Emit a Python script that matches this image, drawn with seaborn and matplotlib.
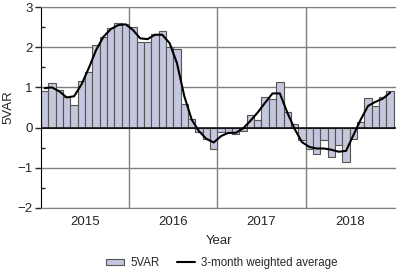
import numpy as np
import pandas as pd
import matplotlib
matplotlib.use("Agg")
import matplotlib.pyplot as plt
from matplotlib.patches import Patch
from matplotlib.lines import Line2D
from matplotlib.ticker import MultipleLocator
import seaborn as sns

# monthly values, Jan 2015 - Dec 2018
years = ["2015", "2016", "2017", "2018"]
var5 = [0.92, 1.11, 0.94, 0.76, 0.57, 1.16, 1.39, 2.06, 2.25, 2.48, 2.61, 2.58,
        2.50, 2.12, 2.12, 2.34, 2.40, 2.00, 1.95, 0.58, 0.21, -0.12, -0.28, -0.52,
        -0.11, -0.13, -0.16, -0.08, 0.31, 0.18, 0.75, 0.72, 1.14, 0.40, 0.09, -0.30,
        -0.52, -0.65, -0.31, -0.74, -0.44, -0.85, -0.29, 0.14, 0.73, 0.54, 0.77, 0.91]
wavg = [0.98, 1.00, 0.90, 0.75, 0.78, 1.07, 1.48, 1.93, 2.26, 2.45, 2.55, 2.57,
        2.43, 2.22, 2.20, 2.31, 2.31, 2.10, 1.60, 0.78, 0.20, -0.09, -0.28, -0.37,
        -0.21, -0.13, -0.13, -0.02, 0.17, 0.38, 0.62, 0.85, 0.85, 0.38, -0.03, -0.36,
        -0.48, -0.52, -0.52, -0.55, -0.60, -0.58, -0.19, 0.20, 0.54, 0.64, 0.72, 0.87]

df = pd.DataFrame({"month": np.arange(len(var5)), "5VAR": var5, "wavg": wavg})

sns.set_style("white")
plt.rcParams["font.family"] = ["Liberation Sans", "DejaVu Sans"]

bar_color = "#c4c7dd"
fig = plt.figure(figsize=(3.96, 2.70), dpi=100)
ax = fig.add_axes([41 / 396, 1 - 208 / 270, 355 / 396, 201 / 270])

sns.barplot(data=df, x="month", y="5VAR", native_scale=True, width=1.0,
            color=bar_color, saturation=1, edgecolor="#555555", linewidth=0.8,
            ax=ax, zorder=2)
sns.lineplot(data=df, x="month", y="wavg", color="black", linewidth=1.5,
             ax=ax, zorder=3)

ax.set_xlim(-0.5, 47.8)
ax.set_ylim(-2, 3)

# grid
for v in range(-2, 4):
    ax.axhline(v, color="black" if v == 0 else "#7f7f7f",
               lw=1.1 if v == 0 else 1.0, zorder=1 if v != 0 else 2.5)
for b in [11.5, 23.5, 35.5]:
    ax.axvline(b, color="#7f7f7f", lw=1.0, zorder=1)

ax.set_xticks([5.5, 17.5, 29.5, 41.5])
ax.set_xticklabels(years)
ax.tick_params(axis="x", length=0, labelsize=9.5, pad=6)
ax.yaxis.set_major_locator(MultipleLocator(1))
ax.yaxis.set_minor_locator(MultipleLocator(0.5))
ax.set_yticks(range(-2, 4))
ax.set_yticklabels(["\u22122", "\u22121", "0", "1", "2", "3"])
ax.tick_params(axis="y", which="major", direction="out", length=4, width=1,
               labelsize=9.5, pad=2, left=True)
ax.tick_params(axis="y", which="minor", direction="in", length=3, width=1, left=True)

for s in ["top", "bottom"]:
    ax.spines[s].set_color("#7f7f7f")
ax.spines["left"].set_color("black")
ax.spines["right"].set_visible(False)

ax.set_xlabel("Year", fontsize=9.5, labelpad=5)
ax.set_ylabel("5VAR", fontsize=9.5, labelpad=2)

handles = [Patch(facecolor=bar_color, edgecolor="#555555", linewidth=0.8),
           Line2D([0], [0], color="black", lw=1.5)]
fig.legend(handles, ["5VAR", "3-month weighted average"], loc="lower center",
           bbox_to_anchor=(0.56, -0.035), ncol=2, frameon=False, fontsize=8.3,
           handlelength=1.6, handleheight=0.5, columnspacing=1.5, handletextpad=0.5)

fig.savefig("out.png", dpi=100)
